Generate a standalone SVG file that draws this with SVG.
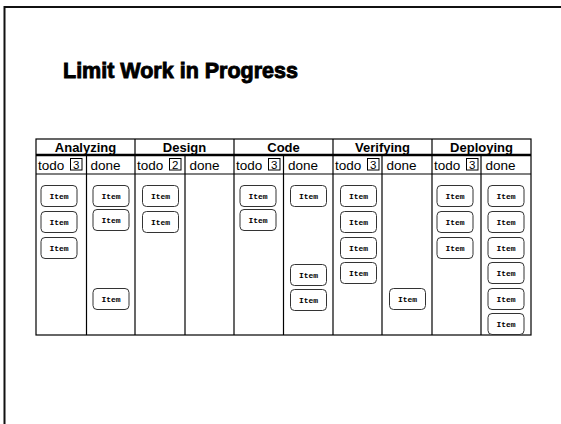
<svg xmlns="http://www.w3.org/2000/svg" width="561" height="424" viewBox="0 0 561 424">
<style>
.frame{fill:none;stroke:#111;stroke-width:2}
.title{font-family:"Liberation Sans",Arial,sans-serif;font-weight:bold;font-size:21.5px;fill:#000;stroke:#000;stroke-width:0.9}
.line{stroke:#000;stroke-width:1.2;fill:none}
.thick{stroke:#000;stroke-width:2.5}
.hdr{font-family:"Liberation Sans",Arial,sans-serif;font-weight:bold;font-size:13px;fill:#000;text-anchor:middle}
.sub{font-family:"Liberation Sans",Arial,sans-serif;font-size:13.5px;fill:#000}
.wip{fill:#fff;stroke:#000;stroke-width:1}
.num{font-family:"Liberation Sans",Arial,sans-serif;font-size:11.5px;fill:#000;text-anchor:middle}
</style>
<defs>
<g id="it">
<rect x="0.5" y="0.5" width="36" height="21" rx="4" fill="#fff" stroke="#333" stroke-width="1"/>
<text x="18.5" y="14" font-family="'Liberation Mono','Courier New',monospace" font-weight="bold" font-size="8" fill="#000" text-anchor="middle">Item</text>
</g>
</defs>
<path class="frame" d="M4.5,430 V7 H561"/>
<text class="title" x="63" y="78">Limit Work in Progress</text>
<g id="board">
<rect class="line" x="36" y="139" width="495" height="196"/>
<line class="thick" x1="36" y1="155" x2="531" y2="155"/>
<line class="line" x1="36" y1="174" x2="531" y2="174"/>
<line class="line" x1="135" y1="139" x2="135" y2="335"/>
<line class="line" x1="234" y1="139" x2="234" y2="335"/>
<line class="line" x1="333" y1="139" x2="333" y2="335"/>
<line class="line" x1="432" y1="139" x2="432" y2="335"/>
<line class="line" x1="86.5" y1="155" x2="86.5" y2="335"/>
<line class="line" x1="185" y1="155" x2="185" y2="335"/>
<line class="line" x1="283.5" y1="155" x2="283.5" y2="335"/>
<line class="line" x1="382" y1="155" x2="382" y2="335"/>
<line class="line" x1="481" y1="155" x2="481" y2="335"/>
</g>
<g id="col-analyzing">
<text class="hdr" x="85.5" y="152">Analyzing</text>
<text class="sub" x="38" y="169.5">todo</text><rect class="wip" x="70.5" y="158.5" width="11.5" height="11.5"/><text class="num" x="76.3" y="168.5">3</text>
<text class="sub" x="90.5" y="169.5">done</text>
</g>
<g id="col-design">
<text class="hdr" x="184.5" y="152">Design</text>
<text class="sub" x="137" y="169.5">todo</text><rect class="wip" x="169.5" y="158.5" width="11.5" height="11.5"/><text class="num" x="175.3" y="168.5">2</text>
<text class="sub" x="189.5" y="169.5">done</text>
</g>
<g id="col-code">
<text class="hdr" x="283.5" y="152">Code</text>
<text class="sub" x="236" y="169.5">todo</text><rect class="wip" x="268.5" y="158.5" width="11.5" height="11.5"/><text class="num" x="274.3" y="168.5">3</text>
<text class="sub" x="288" y="169.5">done</text>
</g>
<g id="col-verifying">
<text class="hdr" x="382.5" y="152">Verifying</text>
<text class="sub" x="335" y="169.5">todo</text><rect class="wip" x="367.5" y="158.5" width="11.5" height="11.5"/><text class="num" x="373.3" y="168.5">3</text>
<text class="sub" x="386.5" y="169.5">done</text>
</g>
<g id="col-deploying">
<text class="hdr" x="481.5" y="152">Deploying</text>
<text class="sub" x="434" y="169.5">todo</text><rect class="wip" x="466.5" y="158.5" width="11.5" height="11.5"/><text class="num" x="472.3" y="168.5">3</text>
<text class="sub" x="485.5" y="169.5">done</text>
</g>
<g id="items">
<use href="#it" x="40.5" y="185"/><use href="#it" x="40.5" y="211"/><use href="#it" x="40.5" y="237"/>
<use href="#it" x="92.5" y="185"/><use href="#it" x="92.5" y="209"/><use href="#it" x="92.5" y="288"/>
<use href="#it" x="142" y="185"/><use href="#it" x="142" y="211"/>
<use href="#it" x="239.5" y="185"/><use href="#it" x="239.5" y="209"/>
<use href="#it" x="290" y="185"/><use href="#it" x="290" y="264"/><use href="#it" x="290" y="289"/>
<use href="#it" x="340" y="185"/><use href="#it" x="340" y="211"/><use href="#it" x="340" y="237"/><use href="#it" x="340" y="262"/>
<use href="#it" x="389" y="288"/>
<use href="#it" x="436.5" y="185"/><use href="#it" x="436.5" y="211"/><use href="#it" x="436.5" y="237"/>
<use href="#it" x="487.5" y="185"/><use href="#it" x="487.5" y="211"/><use href="#it" x="487.5" y="237"/><use href="#it" x="487.5" y="262"/><use href="#it" x="487.5" y="288"/><use href="#it" x="487.5" y="313"/>
</g>
</svg>
